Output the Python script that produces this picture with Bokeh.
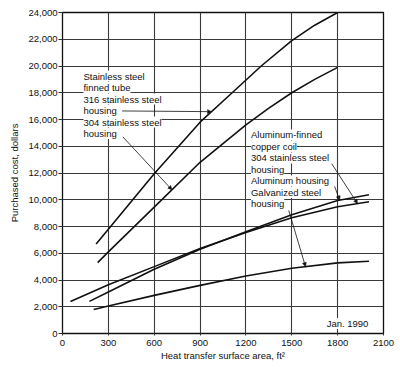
import numpy as np
from bokeh.plotting import figure
from bokeh.models import (FixedTicker, NumeralTickFormatter, Label, Arrow,
                          NormalHead, Range1d)
from bokeh.embed import file_html
from bokeh.resources import INLINE

# ---- data ----
area_ss316 = [220, 300, 600, 900, 1110, 1300, 1500, 1650, 1800]
cost_ss316 = [6700, 7800, 11950, 15800, 18000, 20000, 21900, 23050, 24000]

area_ss304 = [230, 300, 600, 900, 1050, 1200, 1350, 1500, 1650, 1800]
cost_ss304 = [5300, 6100, 9450, 12800, 14200, 15600, 16850, 18000, 19000, 19900]

area_cu304 = [52, 300, 600, 900, 1200, 1500, 1800, 2005]
cost_cu304 = [2400, 3650, 5000, 6350, 7550, 8650, 9480, 9850]

area_cual = [176, 300, 600, 900, 1200, 1500, 1800, 2005]
cost_cual = [2400, 3100, 4800, 6300, 7600, 8880, 9950, 10370]

area_galv = [204, 300, 600, 900, 1200, 1500, 1800, 2005]
cost_galv = [1800, 2050, 2850, 3600, 4300, 4880, 5280, 5400]

x_ticks = [0, 300, 600, 900, 1200, 1500, 1800, 2100]
y_ticks = list(range(0, 24001, 2000))

left_label_lines = ["Stainless steel", "finned tube", "316 stainless steel",
                    "housing", "304 stainless steel", "housing"]
right_label_lines = ["Aluminum-finned", "copper coil", "304 stainless steel",
                     "housing", "Aluminum housing", "Galvanized steel", "housing"]

FONT = "Liberation Sans"
FS = "9.5px"
INK = "#111111"

p = figure(width=400, height=367, output_backend="svg", toolbar_location=None,
           x_range=Range1d(0, 2100), y_range=Range1d(0, 24000),
           min_border_left=62, min_border_right=17, min_border_top=12,
           min_border_bottom=34)

p.outline_line_color = INK
p.outline_line_width = 1.3
p.background_fill_color = "white"

p.xaxis.ticker = FixedTicker(ticks=x_ticks)
p.yaxis.ticker = FixedTicker(ticks=y_ticks)
p.yaxis.formatter = NumeralTickFormatter(format="0,0")
p.xaxis.formatter = NumeralTickFormatter(format="0")

for ax in (p.xaxis[0], p.yaxis[0]):
    ax.axis_line_color = None
    ax.major_tick_in = 0
    ax.minor_tick_line_color = None
    ax.major_tick_line_color = "#333333"
    ax.major_label_text_font = FONT
    ax.major_label_text_font_size = FS
    ax.major_label_text_color = INK
    ax.axis_label_text_font = FONT
    ax.axis_label_text_font_size = FS
    ax.axis_label_text_font_style = "normal"
    ax.axis_label_text_color = INK

p.xaxis.major_tick_out = 2
p.xaxis.major_label_standoff = 4
p.xaxis.axis_label_standoff = 1
p.yaxis.major_tick_out = 4
p.yaxis.major_label_standoff = 1
p.yaxis.axis_label_standoff = 5

p.xaxis.axis_label = "Heat transfer surface area, ft\u00b2"
p.yaxis.axis_label = "Purchased cost, dollars"

p.xgrid.grid_line_color = "#3a3a3a"
p.ygrid.grid_line_color = "#3a3a3a"
p.xgrid.grid_line_width = 1.1
p.ygrid.grid_line_width = 1.1

# ---- curves ----
for xs, ys in [(area_ss316, cost_ss316), (area_ss304, cost_ss304),
               (area_cu304, cost_cu304), (area_cual, cost_cual),
               (area_galv, cost_galv)]:
    p.line(xs, ys, line_color=INK, line_width=1.6, line_join="round")

# ---- labels ----
def add_lines(x0, y0, lines, step=860):
    for i, t in enumerate(lines):
        p.add_layout(Label(x=x0, y=y0 - i * step, text=t, text_font=FONT,
                           text_font_size=FS, text_color=INK,
                           text_baseline="middle", text_align="left",
                           background_fill_color="white"))

add_lines(137, 19250, left_label_lines)
add_lines(1233, 14850, right_label_lines)

p.add_layout(Label(x=1728, y=750, text="Jan. 1990", text_font=FONT,
                   text_font_size=FS, text_color=INK, text_baseline="middle",
                   text_align="left", background_fill_color="white"))

# ---- pointer arrows ----
def pointer(x0, y0, xs, ys, xt):
    yt = float(np.interp(xt, xs, ys))
    p.add_layout(Arrow(x_start=x0, y_start=y0, x_end=xt, y_end=yt,
                       line_color=INK, line_width=0.8,
                       end=NormalHead(size=4, fill_color=INK, line_color=INK,
                                      line_width=0.5)))

pointer(390, 16640, area_ss316, cost_ss316, 975)
pointer(395, 14700, area_ss304, cost_ss304, 716)
pointer(1761, 12700, area_cu304, cost_cu304, 1930)
pointer(1780, 11000, area_cual, cost_cual, 1813)
pointer(1480, 9200, area_galv, cost_galv, 1590)

open("out.html", "w").write(file_html(p, INLINE))
